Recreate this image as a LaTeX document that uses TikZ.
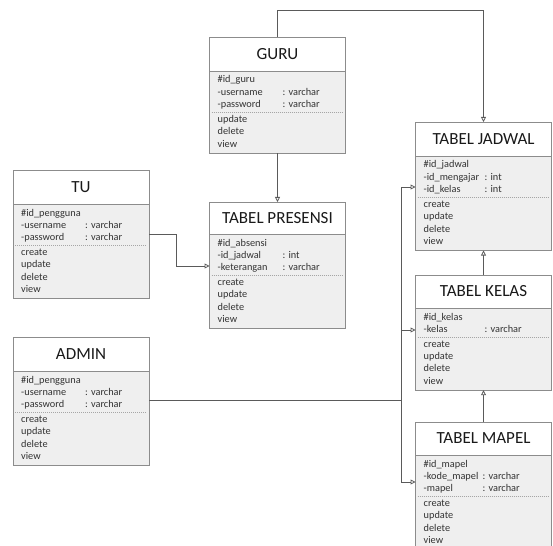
\documentclass[tikz,border=0pt]{standalone}
\usepackage{fontspec}
\setmainfont{Carlito}
\usetikzlibrary{arrows.meta}

\definecolor{edgegray}{HTML}{8C8C8C}
\definecolor{bodygray}{HTML}{EFEFEF}
\definecolor{wiregray}{HTML}{5A5A5A}
\definecolor{inkgray}{HTML}{333333}

\tikzset{
  classbox/.style={draw=edgegray, fill=bodygray, line width=0.8pt, minimum width=136pt, inner sep=0pt, outer sep=0pt},
  classtitle/.style={draw=edgegray, fill=white, line width=0.8pt, minimum width=136pt, inner sep=0pt, outer sep=0pt,
    font=\fontsize{17}{20}\selectfont, text=black!90},
  member/.style={inner sep=0pt, anchor=base west, font=\fontsize{10.3}{12}\selectfont, text=inkgray},
  dashsep/.style={draw=gray!70, line width=0.6pt, dash pattern=on 1pt off 1pt},
  link/.style={draw=wiregray, line width=0.8pt},
  inherit/.style={link, -{Triangle[open, length=5pt, width=5pt]}},
}

% UML class: id, left, top, title height, title, type column offset, attributes (name/type), operations
\newcommand\umlclass[8]{%
  \foreach \an/\ty [count=\i] in {#7} {\xdef\umlnattr{\i}}%
  \foreach \op [count=\i] in {#8} {\xdef\umlnop{\i}}%
  \pgfmathsetmacro\umlsep{#3+#4}%
  \pgfmathsetmacro\umldash{\umlsep+12+(\umlnattr-1)*12.3+4.5}%
  \pgfmathsetmacro\umlbot{\umldash+10.5+(\umlnop-1)*12.3+6}%
  \pgfmathsetmacro\umlh{\umlbot-#3}%
  \node[classbox, minimum height=\umlh, anchor=north west] (#1) at (#2,#3) {};
  \node[classtitle, minimum height=#4, anchor=north west] (#1-title) at (#2,#3) {#5};
  \draw[dashsep] ({#2+2},\umldash) -- ({#2+134},\umldash);
  \foreach \an/\ty [count=\i] in {#7} {
    \node[member] (#1-attr\i) at ({#2+8},{\umlsep+12+(\i-1)*12.3}) {\an};
    \node[member] (#1-type\i) at ({#2+#6},{\umlsep+12+(\i-1)*12.3}) {\ty};
  }
  \foreach \op [count=\i] in {#8} {
    \node[member] (#1-op\i) at ({#2+8},{\umldash+10.5+(\i-1)*12.3}) {\op};
  }
}

\begin{document}
\begin{tikzpicture}[x=1pt, y=-1pt]
  \useasboundingbox (0,0) rectangle (553,545);
  \clip (0,0) rectangle (553,545);

  \umlclass{guru}{209.5}{37}{34}{GURU}{73}
    {\#id\_guru/{}, -username/: varchar, -password/: varchar}
    {update, delete, view}
  \umlclass{tu}{13}{170}{34}{TU}{72}
    {\#id\_pengguna/{}, -username/: varchar, -password/: varchar}
    {create, update, delete, view}
  \umlclass{presensi}{209.5}{202}{32}{TABEL PRESENSI}{73}
    {\#id\_absensi/{}, -id\_jadwal/: int, -keterangan/: varchar}
    {create, update, delete, view}
  \umlclass{admin}{13}{337}{34}{ADMIN}{72}
    {\#id\_pengguna/{}, -username/: varchar, -password/: varchar}
    {create, update, delete, view}
  \umlclass{jadwal}{415.5}{122}{34}{TABEL JADWAL}{69}
    {\#id\_jadwal/{}, -id\_mengajar/: int, -id\_kelas/: int}
    {create, update, delete, view}
  \umlclass{kelas}{415.5}{275}{33}{TABEL KELAS}{69}
    {\#id\_kelas/{}, -kelas/: varchar}
    {create, update, delete, view}
  \umlclass{mapel}{415.5}{422}{33}{TABEL MAPEL}{67}
    {\#id\_mapel/{}, -kode\_mapel/: varchar, -mapel/: varchar}
    {create, update, delete, view}

  % connectors
  \draw[inherit] (guru.north) -- ++(0,-27) -| (jadwal.north);
  \draw[inherit] (guru.south) -- (presensi.north);
  \draw[inherit] (tu.east |- 0,234) -- ++(27,0) |- (presensi.west |- 0,266);
  \draw[inherit] (kelas.north) -- (jadwal.south);
  \draw[inherit] (mapel.north) -- (kelas.south);

  \coordinate (hub) at (401,400);
  \draw[link] (admin.east |- hub) -- (hub);
  \draw[inherit] (hub) |- (jadwal.west |- 0,187);
  \draw[inherit] (hub) |- (kelas.west |- 0,330);
  \draw[inherit] (hub) |- (mapel.west |- 0,482);
\end{tikzpicture}
\end{document}
